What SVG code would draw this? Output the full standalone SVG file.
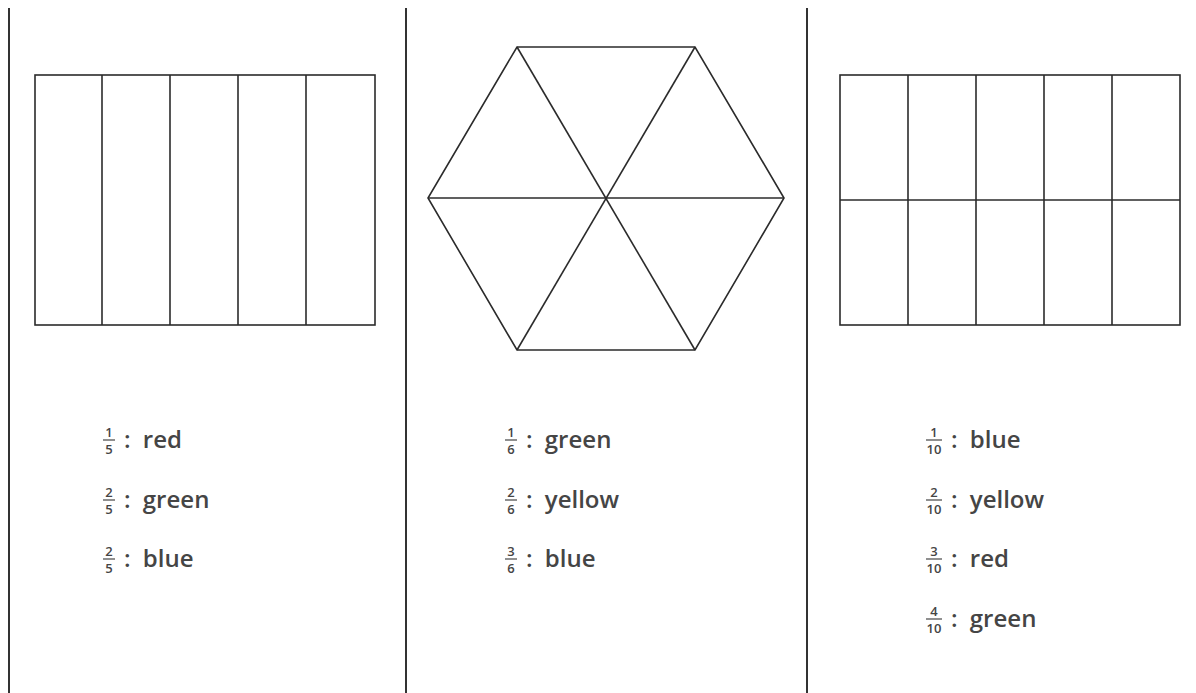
<svg xmlns="http://www.w3.org/2000/svg" width="1196" height="693" viewBox="0 0 1196 693">
<style>
.ln{stroke:#2b2b2b;stroke-width:1.6;fill:none}
.div{stroke:#333;stroke-width:2;fill:none}
.t{font-family:"Open Sans","DejaVu Sans",sans-serif;font-size:24px;font-weight:600;fill:#454545;word-spacing:6px}
.f{font-family:"Open Sans","DejaVu Sans",sans-serif;font-size:13px;font-weight:600;fill:#454545;text-anchor:middle}
.fb{stroke:#454545;stroke-width:1.2}
</style>
<rect width="1196" height="693" fill="#fff"/>
<g id="dividers">
<line class="div" x1="9" y1="8" x2="9" y2="693" stroke-width="1.5"/>
<line class="div" x1="406" y1="8" x2="406" y2="693"/>
<line class="div" x1="807" y1="8" x2="807" y2="693"/>
</g>
<g id="rect-fifths">
<rect class="ln" x="35" y="75" width="340" height="250"/>
<line class="ln" x1="102" y1="75" x2="102" y2="325"/>
<line class="ln" x1="170" y1="75" x2="170" y2="325"/>
<line class="ln" x1="238" y1="75" x2="238" y2="325"/>
<line class="ln" x1="306" y1="75" x2="306" y2="325"/>
</g>
<g id="hexagon">
<polygon class="ln" points="517,47 695,47 784,198 695,350 517,350 428,198"/>
<line class="ln" x1="428" y1="198" x2="784" y2="198"/>
<line class="ln" x1="517" y1="47" x2="695" y2="350"/>
<line class="ln" x1="695" y1="47" x2="517" y2="350"/>
</g>
<g id="rect-tenths">
<rect class="ln" x="840" y="75" width="340" height="250"/>
<line class="ln" x1="840" y1="200" x2="1180" y2="200"/>
<line class="ln" x1="908" y1="75" x2="908" y2="325"/>
<line class="ln" x1="976" y1="75" x2="976" y2="325"/>
<line class="ln" x1="1044" y1="75" x2="1044" y2="325"/>
<line class="ln" x1="1112" y1="75" x2="1112" y2="325"/>
</g>
<g id="legend-left">
<text class="f" x="109" y="437">1</text><line class="fb" x1="103" y1="440" x2="115" y2="440"/><text class="f" x="109" y="454">5</text><text class="t" x="124" y="448">: red</text>
<text class="f" x="109" y="497">2</text><line class="fb" x1="103" y1="500" x2="115" y2="500"/><text class="f" x="109" y="514">5</text><text class="t" x="124" y="508">: green</text>
<text class="f" x="109" y="556">2</text><line class="fb" x1="103" y1="559" x2="115" y2="559"/><text class="f" x="109" y="573">5</text><text class="t" x="124" y="567">: blue</text>
</g>
<g id="legend-middle">
<text class="f" x="511" y="437">1</text><line class="fb" x1="505" y1="440" x2="517" y2="440"/><text class="f" x="511" y="454">6</text><text class="t" x="526" y="448">: green</text>
<text class="f" x="511" y="497">2</text><line class="fb" x1="505" y1="500" x2="517" y2="500"/><text class="f" x="511" y="514">6</text><text class="t" x="526" y="508">: yellow</text>
<text class="f" x="511" y="556">3</text><line class="fb" x1="505" y1="559" x2="517" y2="559"/><text class="f" x="511" y="573">6</text><text class="t" x="526" y="567">: blue</text>
</g>
<g id="legend-right">
<text class="f" x="934" y="437">1</text><line class="fb" x1="926" y1="440" x2="942" y2="440"/><text class="f" x="934" y="454">10</text><text class="t" x="951" y="448">: blue</text>
<text class="f" x="934" y="497">2</text><line class="fb" x1="926" y1="500" x2="942" y2="500"/><text class="f" x="934" y="514">10</text><text class="t" x="951" y="508">: yellow</text>
<text class="f" x="934" y="556">3</text><line class="fb" x1="926" y1="559" x2="942" y2="559"/><text class="f" x="934" y="573">10</text><text class="t" x="951" y="567">: red</text>
<text class="f" x="934" y="616">4</text><line class="fb" x1="926" y1="619" x2="942" y2="619"/><text class="f" x="934" y="633">10</text><text class="t" x="951" y="627">: green</text>
</g>
</svg>
